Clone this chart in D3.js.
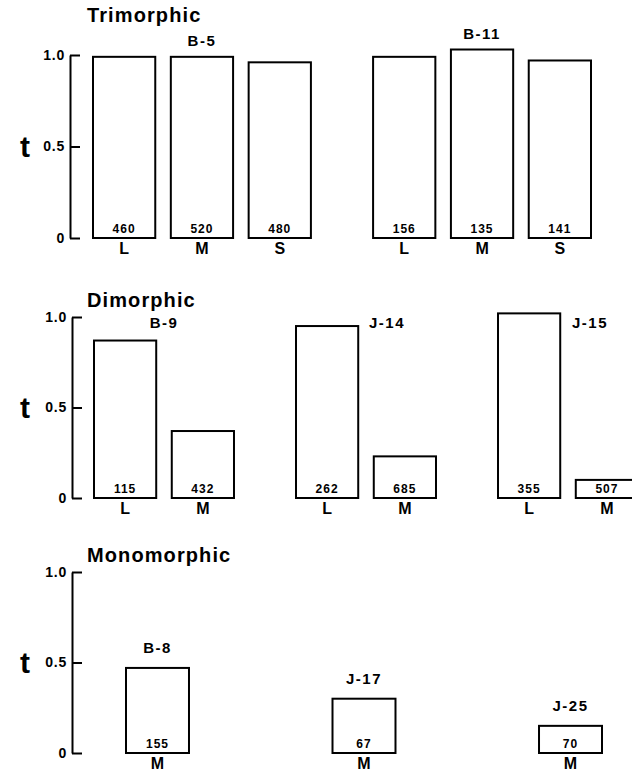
<!DOCTYPE html>
<html>
<head>
<meta charset="utf-8">
<script src="https://cdn.jsdelivr.net/npm/d3@7"></script>
<style>
  body { margin: 0; background: #fff; }
  text { font-family: "Liberation Sans", Arial, sans-serif; font-weight: bold; fill: #000; }
</style>
</head>
<body>
<div id="chart"></div>
<script>
// data
var MORPHS = ['Trimorphic', 'Dimorphic', 'Monomorphic']
var POPULATIONS = ['B-5', 'B-11', 'B-9', 'J-14', 'J-15', 'B-8', 'J-17', 'J-25']
var POP_MORPH = [0, 0, 1, 1, 1, 2, 2, 2]
var STYLES = [['L', 'M', 'S'], ['L', 'M', 'S'], ['L', 'M'], ['L', 'M'], ['L', 'M'], ['M'], ['M'], ['M']]
var T_VALUES = [[0.99, 0.99, 0.96], [0.99, 1.03, 0.97], [0.87, 0.37], [0.95, 0.23], [1.02, 0.10], [0.47], [0.30], [0.15]]
var SAMPLE_N = [[460, 520, 480], [156, 135, 141], [115, 432], [262, 685], [355, 507], [155], [67], [70]]
var Y_TICKS = [0, 0.5, 1.0]
var Y_TICK_LABELS = ['0', '0.5', '1.0']
var Y_LABEL = 't'

// layout
var WIDTH = 632
var HEIGHT = 773
var PANELS = [
  { top: 55, bottom: 238, axisX: 70, x0: 93, x1: 591, pad: 0.222, titleDy: 33, labelMode: 'bar', labelDy: 11 },
  { top: 317, bottom: 498, axisX: 72, x0: 94, x1: 638, pad: 0.307, titleDy: 10, labelMode: 'top', labelDy: -11 },
  { top: 572, bottom: 753, axisX: 72, x0: 126, x1: 602, pad: 0.695, titleDy: 10, labelMode: 'bar', labelDy: 15 }
]
var LABEL_DX = { 'J-14': 21, 'J-15': 22 }
var TITLE_X = 87

var svg = d3.select('#chart').append('svg')
  .attr('width', WIDTH)
  .attr('height', HEIGHT)

svg.append('rect').attr('width', WIDTH).attr('height', HEIGHT).attr('fill', '#fff')

PANELS.forEach(function (panel, m) {
  var pops = POPULATIONS.map(function (p, i) { return i }).filter(function (i) { return POP_MORPH[i] === m })

  var y = d3.scaleLinear().domain([0, 1]).range([panel.bottom, panel.top])
  var xGroup = d3.scaleBand()
    .domain(pops)
    .range([panel.x0, panel.x1])
    .paddingInner(panel.pad)
    .paddingOuter(0)

  var g = svg.append('g')

  // title
  g.append('text')
    .attr('x', TITLE_X)
    .attr('y', panel.top - panel.titleDy)
    .attr('font-size', 20)
    .attr('letter-spacing', 1.1)
    .text(MORPHS[m])

  // axis, ticks pointing inward
  var axis = d3.axisLeft(y)
    .tickValues(Y_TICKS)
    .tickFormat(function (d, i) { return Y_TICK_LABELS[i] })
    .tickSize(-10)
    .tickSizeOuter(0)
    .tickPadding(5)

  var ax = g.append('g')
    .attr('transform', 'translate(' + panel.axisX + ',0)')
    .call(axis)
  ax.select('.domain').attr('stroke', '#000').attr('stroke-width', 2)
  ax.selectAll('.tick line').attr('stroke', '#000').attr('stroke-width', 2)
  ax.selectAll('.tick text')
    .attr('font-family', '"Liberation Sans", Arial, sans-serif')
    .attr('font-weight', 'bold')
    .attr('font-size', 14)
    .attr('letter-spacing', 0.8)
    .attr('fill', '#000')

  g.append('text')
    .attr('x', 25)
    .attr('y', y(0.5) + 10)
    .attr('text-anchor', 'middle')
    .attr('font-size', 30)
    .text(Y_LABEL)

  // bars per population
  pops.forEach(function (pi) {
    var styles = STYLES[pi]
    var gx = xGroup(pi)
    var xBar = d3.scaleBand()
      .domain(styles)
      .range([gx, gx + xGroup.bandwidth()])
      .paddingInner(styles.length > 1 ? 0.2 : 0)

    var rows = styles.map(function (s, k) {
      return { style: s, t: T_VALUES[pi][k], n: SAMPLE_N[pi][k] }
    })

    var bar = g.selectAll(null).data(rows).enter().append('g')

    bar.append('rect')
      .attr('x', function (d) { return xBar(d.style) })
      .attr('y', function (d) { return y(d.t) })
      .attr('width', xBar.bandwidth())
      .attr('height', function (d) { return y(0) - y(d.t) })
      .attr('fill', '#fff')
      .attr('stroke', '#000')
      .attr('stroke-width', 2)

    bar.append('text')
      .attr('x', function (d) { return xBar(d.style) + xBar.bandwidth() / 2 })
      .attr('y', y(0) - 5)
      .attr('text-anchor', 'middle')
      .attr('font-size', 12)
      .attr('letter-spacing', 1)
      .text(function (d) { return d.n })

    bar.append('text')
      .attr('x', function (d) { return xBar(d.style) + xBar.bandwidth() / 2 })
      .attr('y', y(0) + 16)
      .attr('text-anchor', 'middle')
      .attr('font-size', 16)
      .text(function (d) { return d.style })

    var maxT = d3.max(T_VALUES[pi])
    var ly = panel.labelMode === 'bar' ? y(maxT) - panel.labelDy : y(1) - panel.labelDy
    g.append('text')
      .attr('x', gx + xGroup.bandwidth() / 2 + (LABEL_DX[POPULATIONS[pi]] || 0))
      .attr('y', ly)
      .attr('text-anchor', 'middle')
      .attr('font-size', 15)
      .attr('letter-spacing', 1.5)
      .text(POPULATIONS[pi])
  })
})
</script>
</body>
</html>
